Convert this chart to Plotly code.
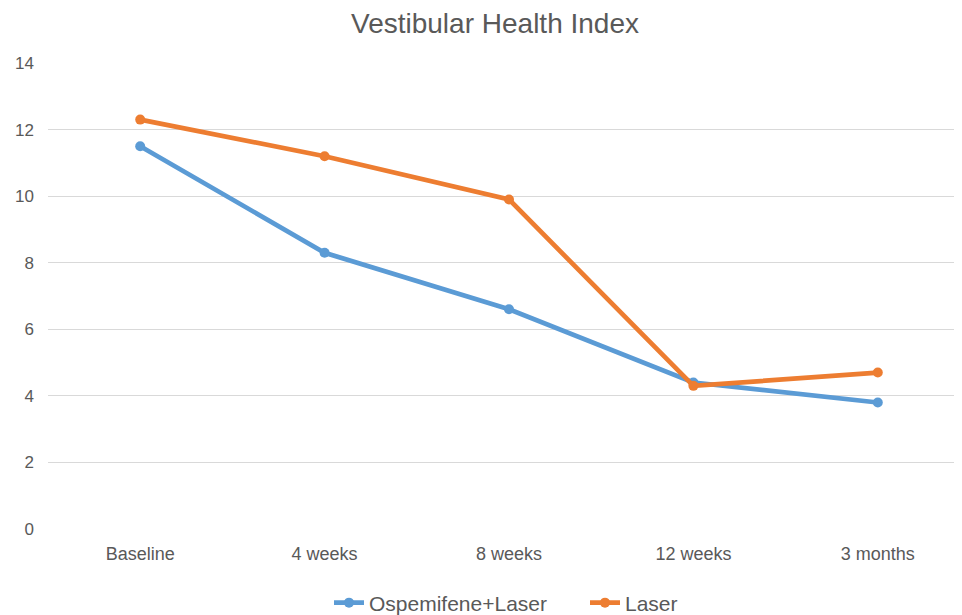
import plotly.graph_objects as go

categories = ["Baseline", "4 weeks", "8 weeks", "12 weeks", "3 months"]
ospemifene_laser = [11.5, 8.3, 6.6, 4.4, 3.8]
laser = [12.3, 11.2, 9.9, 4.3, 4.7]
y_ticks = [0, 2, 4, 6, 8, 10, 12, 14]

font_family = "Liberation Sans, Arial, sans-serif"
grey = "#595959"

W, H = 962, 615
# page body has an 8px offset; positions below are in figure pixels
L, T = 40, 55
B = H - 521

fig = go.Figure()
fig.add_trace(go.Scatter(
    x=categories, y=ospemifene_laser, name="Ospemifene+Laser",
    mode="lines+markers",
    line=dict(color="#5B9BD5", width=4.7),
    marker=dict(size=10, color="#5B9BD5"),
))
fig.add_trace(go.Scatter(
    x=categories, y=laser, name="Laser",
    mode="lines+markers",
    line=dict(color="#ED7D31", width=4.7),
    marker=dict(size=10, color="#ED7D31"),
))

plot_h = H - T - B
fig.update_layout(
    width=W, height=H,
    margin=dict(l=L, r=0, t=T, b=B, autoexpand=False),
    paper_bgcolor="white", plot_bgcolor="white",
    title=dict(text="Vestibular Health Index", x=487/W, xanchor="center",
               y=1 - 15/H, yanchor="middle",
               font=dict(family=font_family, size=28, color=grey)),
    font=dict(family=font_family, size=17, color=grey),
    showlegend=True,
    legend=dict(orientation="h", x=321/W, xref="container", xanchor="left",
                y=-(595 - (T + plot_h)) / plot_h, yanchor="middle",
                entrywidth=211, entrywidthmode="pixels",
                font=dict(family=font_family, size=21, color=grey),
                bgcolor="rgba(0,0,0,0)"),
    xaxis=dict(range=[-0.5, 4.5], showgrid=False, zeroline=False,
               showline=False, ticks="", tickfont=dict(size=18, color=grey),
               tickangle=0, ticklabelstandoff=12, automargin=False),
    yaxis=dict(range=[0, 14], tickvals=y_ticks, showgrid=True,
               gridcolor="#D9D9D9", gridwidth=1.3, zeroline=False,
               showline=False, ticks="", tickfont=dict(size=17, color=grey),
               ticklabelstandoff=13, automargin=False),
)

fig.write_html("out.html")
